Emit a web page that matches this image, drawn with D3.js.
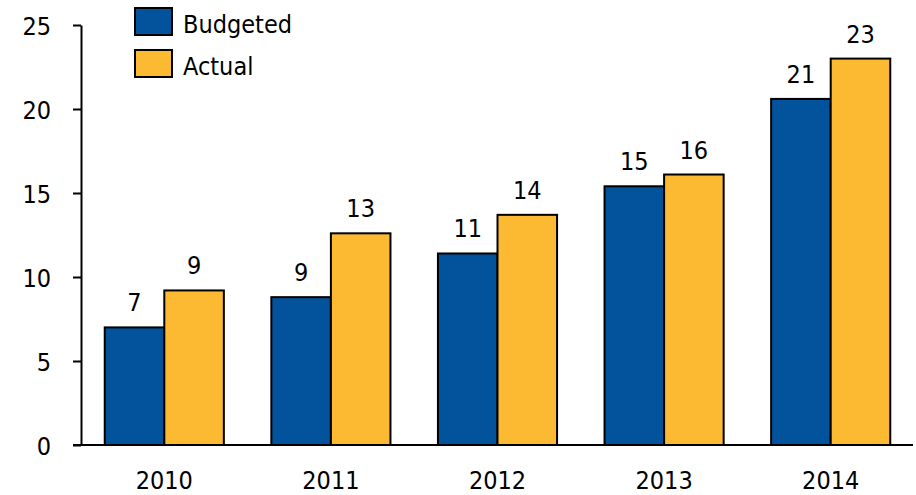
<!DOCTYPE html>
<html>
<head>
<meta charset="utf-8">
<script src="https://cdn.jsdelivr.net/npm/d3@7"></script>
<style>
  html, body { margin: 0; padding: 0; background: #fff; }
  svg { display: block; }
  text { font-family: "DejaVu Sans Condensed", "DejaVu Sans", sans-serif; font-stretch: condensed; fill: #000; }
</style>
</head>
<body>
<svg id="chart" width="916" height="495"></svg>
<script>
// Budget vs. actual spending by year
const years = ["2010", "2011", "2012", "2013", "2014"];
const seriesNames = ["Budgeted", "Actual"];
const budgeted = [7.0, 8.8, 11.4, 15.4, 20.6];
const actual = [9.2, 12.6, 13.7, 16.1, 23.0];
const yTicks = [0, 5, 10, 15, 20, 25];
const colors = ["#02529c", "#fcb932"];

const svg = d3.select("#chart");
const plotLeft = 81, plotRight = 914, plotTop = 25, plotBottom = 445;

const rows = years.map((yr, i) => ({ year: yr, values: [budgeted[i], actual[i]] }));

const x = d3.scaleBand().domain(years).range([plotLeft, plotRight])
  .paddingInner(0.285).paddingOuter(0.1425);
const xs = d3.scaleBand().domain(seriesNames).range([0, x.bandwidth()]);
const y = d3.scaleLinear().domain([0, 25]).range([plotBottom, plotTop]);
const fmt = d3.format(".0f");

// Bars
const groups = svg.append("g").selectAll("g").data(rows).join("g")
  .attr("transform", d => `translate(${x(d.year)},0)`);

groups.selectAll("rect")
  .data(d => d.values.map((v, k) => ({ k, v })))
  .join("rect")
  .attr("x", d => xs(seriesNames[d.k]))
  .attr("y", d => y(d.v))
  .attr("width", xs.bandwidth())
  .attr("height", d => y(0) - y(d.v))
  .attr("fill", d => colors[d.k])
  .attr("stroke", "#000")
  .attr("stroke-width", 2);

groups.selectAll("text.val")
  .data(d => d.values.map((v, k) => ({ k, v })))
  .join("text")
  .attr("class", "val")
  .attr("x", d => xs(seriesNames[d.k]) + xs.bandwidth() / 2)
  .attr("y", d => y(d.v) - 16)
  .attr("text-anchor", "middle")
  .attr("font-size", 25)
  .text(d => fmt(d.v));

// Y axis
const yAxis = svg.append("g")
  .attr("transform", `translate(${plotLeft},0)`)
  .call(d3.axisLeft(y).tickValues(yTicks).tickSize(8).tickSizeOuter(0).tickPadding(22));
yAxis.attr("font-family", null).attr("font-size", null);
yAxis.select(".domain").attr("stroke", "#000").attr("stroke-width", 2);
yAxis.selectAll(".tick line").attr("stroke", "#000").attr("stroke-width", 2);
yAxis.selectAll(".tick text").attr("font-size", 25).attr("dy", "0.36em");

// X axis
const xAxis = svg.append("g")
  .attr("transform", `translate(0,${plotBottom})`)
  .call(d3.axisBottom(x).tickSize(0).tickSizeOuter(0).tickPadding(26));
xAxis.attr("font-family", null).attr("font-size", null);
xAxis.select(".domain").attr("d", `M${plotLeft - 8},0H${plotRight - 1}`)
  .attr("stroke", "#000").attr("stroke-width", 2);
xAxis.selectAll(".tick text").attr("font-size", 25);

// Legend
const legend = svg.append("g");
seriesNames.forEach((name, i) => {
  const ly = 8 + i * 42;
  legend.append("rect")
    .attr("x", 135).attr("y", ly).attr("width", 37).attr("height", 27)
    .attr("fill", colors[i]).attr("stroke", "#000").attr("stroke-width", 2);
  legend.append("text")
    .attr("x", 183).attr("y", ly + 25)
    .attr("font-size", 25)
    .text(name);
});
</script>
</body>
</html>
